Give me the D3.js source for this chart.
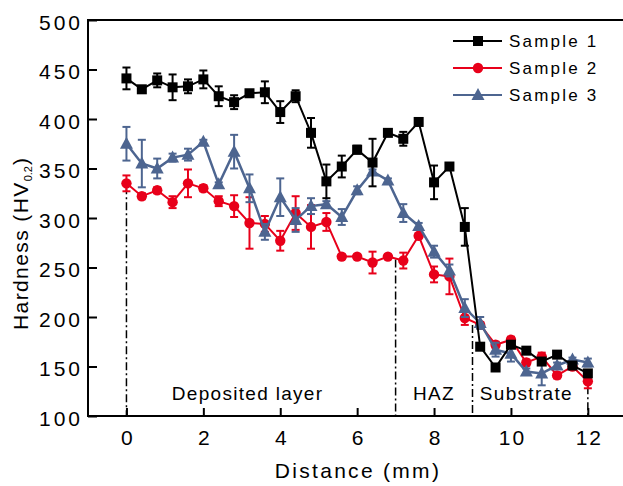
<!DOCTYPE html>
<head>
<meta charset="utf-8">
<title>Hardness profile</title>
<script src="https://d3js.org/d3.v7.min.js"></script>
<style>
body { margin: 0; background: #fff; }
svg text { font-family: "Liberation Sans", Arial, sans-serif; fill: #000; }
</style>
</head>
<body>
<div id="container"></div>
<script>
//---------------------------DATA-------------------------------//
const distance = [0, 0.4, 0.8, 1.2, 1.6, 2.0, 2.4, 2.8, 3.2, 3.6, 4.0, 4.4, 4.8, 5.2, 5.6, 6.0,
                  6.4, 6.8, 7.2, 7.6, 8.0, 8.4, 8.8, 9.2, 9.6, 10.0, 10.4, 10.8, 11.2, 11.6, 12.0];

const sample1 = [441, 430, 439, 432, 433, 440, 423, 417, 426, 427, 407, 423, 386, 337, 352, 369,
                 356, 386, 380, 397, 336, 352, 291, 170, 149, 172, 166, 155, 162, 151, 143];
const sample1Err = [11, 3, 7, 13, 7, 9, 10, 7, 2, 11, 11, 6, 15, 17, 11, 4,
                    24, 2, 7, 2, 17, 2, 19, 2, 2, 2, 2, 2, 2, 2, 3];

const sample2 = [335, 322, 328, 316, 335, 330, 317, 312, 295, 294, 277, 305, 291, 296, 261, 261,
                 255, 261, 257, 282, 243, 241, 199, 192, 172, 177, 154, 160, 141, 150, 135];
const sample2Err = [8, 3, 3, 6, 14, 3, 5, 11, 26, 8, 10, 17, 22, 9, 2, 2,
                    11, 2, 8, 2, 8, 18, 7, 3, 3, 3, 3, 4, 3, 3, 7];

const sample3 = [375, 355, 350, 361, 364, 377, 334, 367, 330, 286, 321, 298, 312, 314, 301, 328,
                 347, 338, 305, 292, 266, 247, 209, 194, 167, 163, 145, 143, 151, 157, 154];
const sample3Err = [17, 24, 10, 4, 6, 2, 2, 17, 14, 8, 19, 12, 8, 3, 8, 4,
                    2, 2, 9, 3, 6, 6, 9, 6, 7, 8, 3, 12, 3, 2, 4];

const xTicks = [0, 2, 4, 6, 8, 10, 12];
const yTicks = [100, 150, 200, 250, 300, 350, 400, 450, 500];

// zone boundaries (dash-dot lines) and zone names
const zoneLines = [{x: 0, top: 332}, {x: 7, top: 258}, {x: 9, top: 192}, {x: 12, top: 130}];
const zoneNames = [{x: 3.15, name: "Deposited layer"}, {x: 8.0, name: "HAZ"}, {x: 10.4, name: "Substrate"}];

const series = [
  {name: "Sample 2", values: sample2, err: sample2Err, color: "#e8001a", shape: "circle"},
  {name: "Sample 3", values: sample3, err: sample3Err, color: "#4d6590", shape: "triangle"},
  {name: "Sample 1", values: sample1, err: sample1Err, color: "#000000", shape: "square"}
];
const legendOrder = ["Sample 1", "Sample 2", "Sample 3"];

//---------------------------SVG--------------------------------//
const width = 623, height = 486;
const mLeft = 88, mTop = 20, mBottom = 416;

const svg = d3.select("#container").append("svg")
    .attr("width", width)
    .attr("height", height);

const x = d3.scaleLinear().domain([-1, 13]).range([mLeft, mLeft + 14 * 38.45]);
const y = d3.scaleLinear().domain([100, 500]).range([mBottom, mTop]);

//---------------------------FRAME------------------------------//
svg.append("rect")
    .attr("x", x(-1)).attr("y", y(500))
    .attr("width", x(13) - x(-1)).attr("height", y(100) - y(500))
    .attr("fill", "none").attr("stroke", "#000").attr("stroke-width", 2);

// x axis, ticks pointing inward
const xAxis = d3.axisBottom(x).tickValues(xTicks).tickSize(-8).tickPadding(18).tickFormat(d3.format("d"));
const gx = svg.append("g").attr("transform", "translate(0," + mBottom + ")").call(xAxis);
gx.select(".domain").remove();
gx.selectAll(".tick line").attr("stroke", "#000").attr("stroke-width", 2);
gx.selectAll(".tick text")
    .attr("font-size", 21).style("letter-spacing", "2px")
    .attr("dx", 1).attr("dy", "0.71em").attr("y", 14)
    .attr("font-family", "Liberation Sans, Arial, sans-serif");

// y axis, ticks pointing inward
const yAxis = d3.axisLeft(y).tickValues(yTicks).tickSize(-9).tickPadding(8);
const gy = svg.append("g").attr("transform", "translate(" + mLeft + ",0)").call(yAxis);
gy.select(".domain").remove();
gy.selectAll(".tick line").attr("stroke", "#000").attr("stroke-width", 2);
gy.selectAll(".tick text")
    .attr("font-size", 21).style("letter-spacing", "3px")
    .attr("x", -5).attr("dy", "0.45em")
    .attr("font-family", "Liberation Sans, Arial, sans-serif");

// axis titles
svg.append("text")
    .attr("x", 358).attr("y", 478)
    .attr("text-anchor", "middle")
    .attr("font-size", 21).style("letter-spacing", "2.3px")
    .text("Distance  (mm)");

const ytitle = svg.append("text")
    .attr("transform", "translate(28,226) rotate(-90)")
    .attr("x", -104)
    .attr("font-size", 21).style("letter-spacing", "1.4px");
ytitle.append("tspan").text("Hardness (HV");
ytitle.append("tspan").attr("font-size", 11).attr("dy", 4).style("letter-spacing", "0px").text("0.2");
ytitle.append("tspan").attr("dy", -4).attr("dx", 1).text(")");

//-----------------------ZONE MARKERS---------------------------//
svg.selectAll(".zone")
    .data(zoneLines)
    .join("line")
    .attr("x1", d => x(d.x)).attr("x2", d => x(d.x))
    .attr("y1", d => y(d.top)).attr("y2", y(100))
    .attr("stroke", "#000").attr("stroke-width", 1.5)
    .attr("stroke-dasharray", "8,3,2,3");

svg.selectAll(".zonename")
    .data(zoneNames)
    .join("text")
    .attr("x", d => x(d.x)).attr("y", 400)
    .attr("text-anchor", "middle")
    .attr("font-size", 19).style("letter-spacing", "1.3px")
    .text(d => d.name);

//---------------------------MARKERS----------------------------//
function drawMarker(g, shape, color) {
  if (shape === "square") {
    g.append("rect").attr("x", -5).attr("y", -5).attr("width", 10).attr("height", 10).attr("fill", color);
  } else if (shape === "circle") {
    g.append("circle").attr("r", 5.2).attr("fill", color);
  } else {
    g.append("path").attr("d", "M0,-7L6.5,5L-6.5,5Z").attr("fill", color);
  }
}

//----------------------------LINES-----------------------------//
const line = d3.line()
    .x((d, i) => x(distance[i]))
    .y(d => y(d));

series.forEach(s => {
  const g = svg.append("g");
  const pts = s.values.map((v, i) => ({x: distance[i], v: v, e: s.err[i]}));

  // error bars
  const eb = g.selectAll(".eb").data(pts).join("g");
  eb.append("line")
      .attr("x1", d => x(d.x)).attr("x2", d => x(d.x))
      .attr("y1", d => y(d.v - d.e)).attr("y2", d => y(d.v + d.e))
      .attr("stroke", s.color).attr("stroke-width", 2);
  [-1, 1].forEach(k => {
    eb.append("line")
        .attr("x1", d => x(d.x) - 4).attr("x2", d => x(d.x) + 4)
        .attr("y1", d => y(d.v + k * d.e)).attr("y2", d => y(d.v + k * d.e))
        .attr("stroke", s.color).attr("stroke-width", 2);
  });

  g.append("path")
      .attr("d", line(s.values))
      .attr("fill", "none")
      .attr("stroke", s.color)
      .attr("stroke-width", s.shape === "triangle" ? 2.5 : 2);

  g.selectAll(".pt").data(pts).join("g")
      .attr("transform", d => "translate(" + x(d.x) + "," + y(d.v) + ")")
      .each(function() { drawMarker(d3.select(this), s.shape, s.color); });
});

//----------------------------LEGEND----------------------------//
const legend = svg.append("g");
legendOrder.forEach((name, i) => {
  const s = series.find(d => d.name === name);
  const row = legend.append("g").attr("transform", "translate(0," + (41 + i * 27) + ")");
  row.append("line").attr("x1", 453).attr("x2", 502).attr("y1", 0).attr("y2", 0)
      .attr("stroke", s.color).attr("stroke-width", 2);
  const m = row.append("g").attr("transform", "translate(478,0)");
  drawMarker(m, s.shape, s.color);
  row.append("text").attr("x", 509).attr("y", 0).attr("dy", "0.36em")
      .attr("font-size", 17).style("letter-spacing", "2.2px")
      .text(name);
});
</script>
</body>
